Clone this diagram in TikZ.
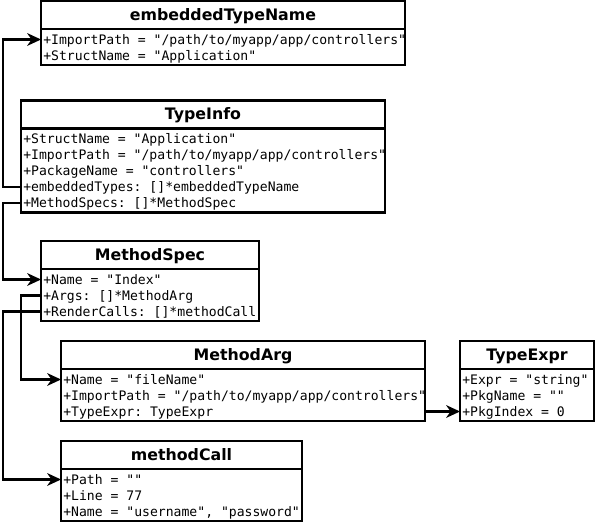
\documentclass[tikz,border=0pt]{standalone}
\usepackage{fontspec}
\setsansfont{DejaVu Sans}
\setmonofont{DejaVu Sans Mono}
\tikzset{
  boxline/.style={draw=black, line width=2.1pt},
  ctitle/.style={boxline, fill=white, anchor=north west, inner sep=0pt, outer sep=0pt,
    minimum height=28pt, text height=12pt, text depth=2pt,
    font=\sffamily\bfseries\fontsize{15.8}{18}\selectfont},
  cbody/.style={boxline, fill=white, anchor=north west, inner sep=0pt, outer sep=0pt},
  crow/.style={anchor=north west, inner xsep=2.3pt, inner ysep=0pt, outer sep=0pt,
    text height=12.8pt, text depth=3.2pt,
    font=\ttfamily\fontsize{13.1}{16}\selectfont},
  conn/.style={line width=2.1pt, shorten >=6pt},
  tiphead/.style={fill=black},
}
\newcommand\tipat[1]{\fill[tiphead] (#1) -- ++(-14,-6.5) -- ++(4.5,6.5) -- ++(-4.5,6.5) -- cycle;}
\begin{document}
\begin{tikzpicture}[x=1pt,y=-1pt]
\useasboundingbox (0,0) rectangle (595,522);
% embeddedTypeName
\node[ctitle, minimum width=364pt] (etn) at (41,1) {embeddedTypeName};
\node[cbody, minimum width=364pt, minimum height=36pt] (etnb) at (etn.south west) {};
\node[crow, yshift=-2.5pt] (etn1) at (etnb.north west) {+ImportPath = "/path/to/myapp/app/controllers"};
\node[crow] (etn2) at (etn1.south west) {+StructName = "Application"};
% TypeInfo
\node[ctitle, minimum width=364pt] (ti) at (21,100.5) {TypeInfo};
\node[cbody, minimum width=364pt, minimum height=84pt] (tib) at (ti.south west) {};
\node[crow, yshift=-2.5pt] (ti1) at (tib.north west) {+StructName = "Application"};
\node[crow] (ti2) at (ti1.south west) {+ImportPath = "/path/to/myapp/app/controllers"};
\node[crow] (ti3) at (ti2.south west) {+PackageName = "controllers"};
\node[crow] (ti4) at (ti3.south west) {+embeddedTypes: []*embeddedTypeName};
\node[crow] (ti5) at (ti4.south west) {+MethodSpecs: []*MethodSpec};
% MethodSpec
\node[ctitle, minimum width=218pt] (ms) at (41,241) {MethodSpec};
\node[cbody, minimum width=218pt, minimum height=52pt] (msb) at (ms.south west) {};
\node[crow, yshift=-2.5pt] (ms1) at (msb.north west) {+Name = "Index"};
\node[crow] (ms2) at (ms1.south west) {+Args: []*MethodArg};
\node[crow] (ms3) at (ms2.south west) {+RenderCalls: []*methodCall};
% MethodArg
\node[ctitle, minimum width=364pt] (ma) at (61,341) {MethodArg};
\node[cbody, minimum width=364pt, minimum height=52pt] (mab) at (ma.south west) {};
\node[crow, yshift=-2.5pt] (ma1) at (mab.north west) {+Name = "fileName"};
\node[crow] (ma2) at (ma1.south west) {+ImportPath = "/path/to/myapp/app/controllers"};
\node[crow] (ma3) at (ma2.south west) {+TypeExpr: TypeExpr};
% TypeExpr
\node[ctitle, minimum width=134pt] (te) at (460,341) {TypeExpr};
\node[cbody, minimum width=134pt, minimum height=52pt] (teb) at (te.south west) {};
\node[crow, yshift=-2.5pt] (te1) at (teb.north west) {+Expr = "string"};
\node[crow] (te2) at (te1.south west) {+PkgName = ""};
\node[crow] (te3) at (te2.south west) {+PkgIndex = 0};
% methodCall
\node[ctitle, minimum width=241pt] (mc) at (61,441) {methodCall};
\node[cbody, minimum width=241pt, minimum height=52pt] (mcb) at (mc.south west) {};
\node[crow, yshift=-2.5pt] (mc1) at (mcb.north west) {+Path = ""};
\node[crow] (mc2) at (mc1.south west) {+Line = 77};
\node[crow] (mc3) at (mc2.south west) {+Name = "username", "password"};
% connectors
\draw[conn] (ti4.west) -- ++(-18,0) |- (etn1.west);
\draw[conn] (ti5.west) -- ++(-18,0) |- (ms1.west);
\draw[conn] (ms2.west) -- ++(-20,0) |- (ma1.west);
\draw[conn] (ms3.west) -- ++(-38,0) |- (mc1.west);
\draw[conn] (ma3.west -| mab.east) -- (te3.west);
\tipat{etn1.west}
\tipat{ms1.west}
\tipat{ma1.west}
\tipat{mc1.west}
\tipat{te3.west}
\end{tikzpicture}
\end{document}
